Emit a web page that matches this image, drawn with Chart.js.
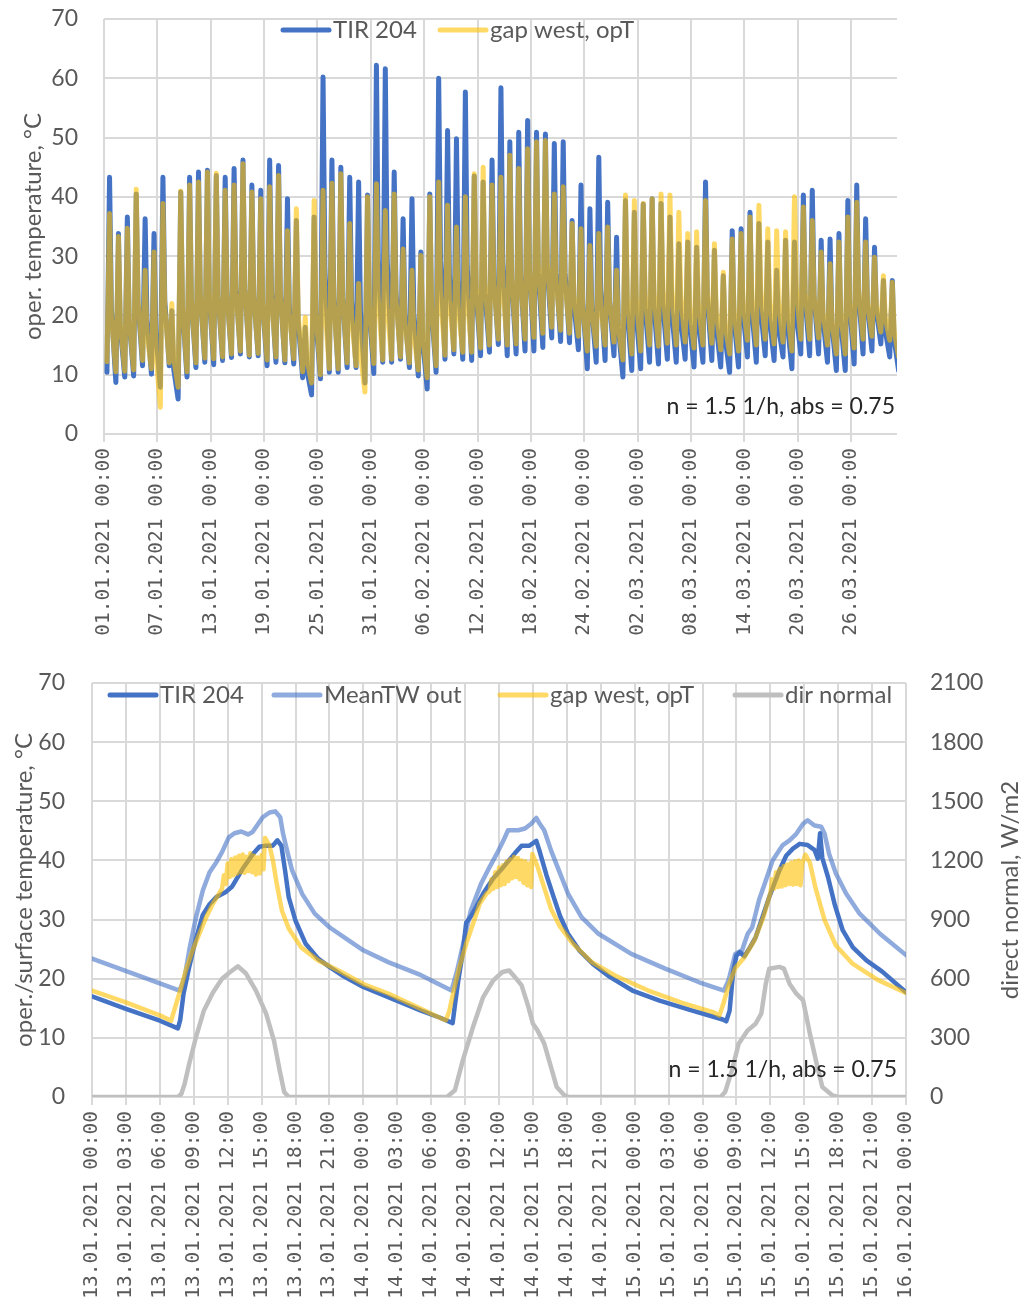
<!DOCTYPE html>
<html>
<head>
<meta charset="utf-8">
<title>TIR 204 operative temperature</title>
<script src="https://cdn.jsdelivr.net/npm/chart.js@4.4.1/dist/chart.umd.min.js"></script>
<style>
  body { margin: 0; background: #fff; }
  #wrap { position: relative; width: 1029px; height: 1306px; }
  #overview { position: absolute; left: 0; top: 0; }
  #detail { position: absolute; left: 0; top: 650px; }
</style>
</head>
<body>
<div id="wrap">
  <canvas id="overview" width="1029" height="650"></canvas>
  <canvas id="detail" width="1029" height="656"></canvas>
</div>
<script>
// ---- overview, 01.01. - 31.03.2021: daily course of the hourly series ----
const overviewTickLabels = ['01.01.2021 00:00', '07.01.2021 00:00', '13.01.2021 00:00', '19.01.2021 00:00',
  '25.01.2021 00:00', '31.01.2021 00:00', '06.02.2021 00:00', '12.02.2021 00:00', '18.02.2021 00:00',
  '24.02.2021 00:00', '02.03.2021 00:00', '08.03.2021 00:00', '14.03.2021 00:00', '20.03.2021 00:00',
  '26.03.2021 00:00'];

// afternoon maximum, one value per day from 01.01.
const tirDailyMax = [43.3, 33.8, 36.6, 40.5, 36.3, 33.8, 43.3, 20.8, 40.8, 43.3,
  44.2, 44.5, 43.6, 43.3, 44.8, 46.2, 42.0, 41.1, 46.2, 45.3,
  39.7, 36.0, 18.0, 36.6, 60.2, 46.2, 45.0, 43.3, 42.5, 40.3,
  62.2, 61.6, 44.2, 36.3, 39.7, 30.7, 40.5, 60.0, 51.2, 49.8,
  57.7, 43.5, 42.5, 46.2, 58.4, 49.3, 50.9, 52.9, 50.9, 50.6,
  49.0, 49.3, 36.0, 42.0, 38.0, 46.7, 39.1, 33.2, 39.4, 37.4,
  38.8, 39.7, 38.9, 36.6, 32.1, 32.4, 31.5, 42.5, 31.0, 26.7,
  34.3, 34.6, 37.4, 35.5, 32.4, 27.6, 32.7, 32.4, 40.3, 41.1,
  32.7, 32.9, 33.8, 39.4, 42.0, 36.3, 31.5, 25.9, 25.9];
const gapDailyMax = [37.2, 33.3, 34.7, 41.3, 27.6, 30.7, 38.9, 22.0, 41.0, 42.0,
  42.5, 44.2, 44.0, 41.1, 42.0, 45.6, 40.8, 39.7, 41.7, 43.6,
  34.3, 38.0, 19.7, 39.4, 41.1, 42.3, 43.9, 35.5, 25.4, 40.0,
  42.2, 37.7, 40.5, 31.2, 27.6, 30.1, 40.0, 42.5, 38.6, 34.9,
  40.0, 43.9, 45.0, 42.0, 43.3, 47.0, 44.8, 48.1, 49.3, 49.5,
  40.5, 41.7, 35.5, 34.6, 31.8, 33.8, 34.9, 27.6, 40.3, 39.4,
  38.9, 39.7, 40.5, 40.3, 37.4, 33.8, 34.1, 39.4, 32.1, 27.3,
  32.9, 33.8, 36.6, 38.6, 34.6, 34.3, 34.1, 40.0, 38.3, 36.0,
  30.7, 28.7, 32.4, 36.6, 39.1, 32.4, 29.8, 26.7, 25.6];

// level around 20:00, after the fast drop of the afternoon peak
const tirDailyEvening = [21.0, 18.0, 19.0, 22.0, 19.3, 17.0, 22.5, 11.0, 21.0, 22.4,
  23.3, 23.2, 23.3, 23.5, 24.5, 24.6, 23.3, 21.9, 24.0, 23.6,
  21.6, 18.8, 10.6, 18.9, 27.8, 22.9, 23.0, 22.4, 20.5, 20.7,
  29.6, 29.4, 23.7, 20.0, 20.3, 15.7, 20.9, 29.2, 26.7, 25.6,
  28.3, 23.8, 23.8, 26.0, 29.0, 26.0, 26.9, 27.6, 27.3, 28.2,
  27.3, 27.3, 21.8, 21.9, 21.2, 24.4, 22.3, 17.9, 20.7, 20.2,
  21.4, 21.6, 21.8, 20.7, 19.4, 18.7, 18.9, 22.9, 18.2, 16.1,
  19.3, 20.6, 21.0, 21.0, 19.4, 18.1, 18.6, 20.1, 22.7, 23.2,
  19.3, 18.5, 18.8, 21.5, 23.5, 21.8, 20.9, 17.5, 16.0];
const gapDailyEvening = [19.8, 18.5, 19.2, 22.5, 16.8, 13.7, 21.4, 12.8, 21.2, 22.5,
  23.2, 23.7, 23.2, 23.2, 23.8, 24.6, 23.1, 22.0, 23.0, 23.4,
  20.3, 20.1, 12.5, 20.3, 21.5, 22.0, 23.2, 19.9, 13.5, 21.7,
  22.9, 21.4, 22.6, 18.7, 16.7, 16.7, 21.5, 23.5, 22.7, 21.2,
  23.0, 24.8, 25.5, 25.1, 24.9, 26.3, 26.1, 27.4, 28.3, 29.0,
  25.5, 25.6, 23.2, 21.2, 20.8, 21.6, 22.3, 17.8, 22.9, 22.9,
  23.4, 23.5, 24.1, 23.9, 23.2, 21.3, 21.7, 23.7, 20.5, 18.3,
  20.6, 22.1, 22.6, 23.9, 22.0, 22.1, 21.0, 24.4, 23.8, 23.1,
  20.5, 18.8, 20.1, 22.2, 24.1, 22.1, 21.6, 19.6, 17.4];

// early morning minimum
const tirDailyMin = [10.4, 8.7, 9.6, 9.8, 11.5, 10.1, 7.9, 11.5, 5.9, 9.6,
  11.2, 12.1, 11.7, 12.4, 12.9, 13.5, 13.0, 13.2, 11.5, 12.1,
  12.0, 11.8, 9.5, 6.6, 9.3, 10.4, 10.4, 11.2, 11.2, 8.6,
  10.2, 12.1, 12.1, 12.6, 11.2, 9.8, 7.6, 10.4, 12.6, 13.5,
  12.6, 12.4, 13.2, 13.8, 15.1, 13.2, 13.5, 14.0, 14.0, 14.6,
  16.2, 15.6, 15.4, 14.2, 11.0, 12.1, 12.4, 13.2, 9.6, 10.7,
  11.0, 12.1, 11.8, 12.6, 12.1, 12.6, 11.3, 12.1, 12.4, 11.3,
  10.4, 11.3, 13.0, 12.1, 13.2, 12.4, 13.0, 11.0, 13.5, 13.2,
  13.5, 12.1, 10.7, 10.7, 11.8, 13.5, 14.0, 15.2, 13.0, 10.7];
const gapDailyMin = [12.2, 10.5, 10.6, 10.8, 12.4, 11.0, 4.5, 12.0, 7.9, 10.5,
  12.0, 12.8, 12.7, 13.0, 13.5, 14.0, 13.3, 13.6, 12.5, 13.0,
  12.5, 12.7, 10.5, 8.6, 10.0, 11.0, 11.0, 12.0, 11.5, 7.1,
  11.9, 12.5, 12.6, 13.0, 12.0, 10.8, 9.5, 11.5, 13.3, 14.2,
  13.8, 13.8, 14.5, 15.0, 16.0, 15.0, 15.2, 16.0, 16.3, 17.0,
  18.0, 17.5, 17.0, 16.5, 14.0, 14.8, 15.0, 15.5, 12.5, 13.5,
  14.0, 15.0, 14.8, 15.3, 15.0, 15.5, 14.5, 15.0, 15.3, 14.2,
  13.5, 14.0, 15.8, 15.0, 16.0, 15.2, 15.5, 14.0, 16.0, 16.0,
  16.2, 15.0, 13.5, 13.5, 14.5, 16.0, 16.5, 17.2, 15.8, 13.0];

// ---- detail, 13.01. - 16.01.2021: [hour since 13.01. 00:00, value] ----
const detailTickLabels = ['13.01.2021 00:00', '13.01.2021 03:00', '13.01.2021 06:00', '13.01.2021 09:00',
  '13.01.2021 12:00', '13.01.2021 15:00', '13.01.2021 18:00', '13.01.2021 21:00', '14.01.2021 00:00',
  '14.01.2021 03:00', '14.01.2021 06:00', '14.01.2021 09:00', '14.01.2021 12:00', '14.01.2021 15:00',
  '14.01.2021 18:00', '14.01.2021 21:00', '15.01.2021 00:00', '15.01.2021 03:00', '15.01.2021 06:00',
  '15.01.2021 09:00', '15.01.2021 12:00', '15.01.2021 15:00', '15.01.2021 18:00', '15.01.2021 21:00',
  '16.01.2021 00:00'];

const tirDetail = [[0, 17.0], [3, 14.9], [6, 12.9], [7.6, 11.6], [7.8, 13.0], [8.1, 17.5], [8.6, 22.0],
  [9.2, 26.8], [9.8, 30.8], [10.4, 32.6], [11.0, 33.8], [11.8, 34.6], [12.4, 35.6], [13.3, 38.5],
  [14.2, 41.0], [14.8, 42.3], [15.4, 42.5], [16.0, 42.5], [16.4, 43.4], [16.75, 42.5], [17.1, 38.0],
  [17.4, 33.8], [18.0, 29.8], [18.9, 25.9], [20.0, 23.4], [21.0, 22.0], [22.1, 20.6], [24.0, 18.6],
  [26.2, 16.9], [29.1, 14.6], [30.8, 13.4], [31.9, 12.5], [32.1, 15.5], [32.4, 19.7], [32.8, 24.5],
  [33.1, 29.5], [33.5, 30.5], [34.0, 32.2], [34.6, 34.4], [35.5, 37.0], [36.4, 38.9], [37.4, 41.2],
  [38.0, 42.5], [38.7, 42.5], [39.3, 43.3], [39.6, 41.5], [40.2, 37.5], [40.8, 34.0], [41.4, 30.6],
  [42.1, 27.6], [43.1, 24.8], [44.3, 22.5], [45.8, 20.3], [47.8, 18.0], [50.2, 16.3], [53.1, 14.6],
  [55.8, 13.1], [56.1, 12.8], [56.4, 14.6], [56.7, 21.0], [57.0, 23.9], [57.3, 24.5], [57.7, 23.8],
  [58.2, 25.3], [58.7, 27.0], [59.3, 30.4], [59.9, 33.8], [60.8, 38.3], [61.4, 40.8], [62.0, 42.0],
  [62.6, 42.8], [63.3, 42.6], [63.9, 41.8], [64.2, 40.3], [64.4, 44.6], [64.6, 40.4], [65.1, 37.2],
  [65.7, 32.5], [66.4, 28.2], [67.3, 25.3], [68.5, 23.1], [69.9, 21.2], [72, 17.7]];

const meanTwDetail = [[0, 23.4], [7.75, 18.0], [8.2, 20.3], [8.6, 24.8], [9.2, 30.4], [9.8, 34.9],
  [10.4, 38.0], [11.0, 39.7], [11.5, 41.4], [12.1, 43.9], [12.6, 44.6], [13.2, 44.9], [13.8, 44.4],
  [14.2, 44.8], [14.6, 45.9], [15.1, 47.3], [15.7, 48.1], [16.2, 48.3], [16.65, 47.3], [16.9, 44.5],
  [17.25, 41.7], [17.7, 38.3], [18.6, 34.3], [19.7, 31.0], [21.0, 28.7], [22.7, 26.5], [24.0, 24.8],
  [26.2, 22.8], [29.1, 20.6], [31.8, 18.0], [32.3, 21.4], [32.9, 26.5], [33.5, 31.5], [34.4, 36.0],
  [35.2, 39.0], [35.8, 41.1], [36.4, 43.4], [36.8, 45.1], [37.7, 45.1], [38.3, 45.4], [38.85, 46.2],
  [39.3, 47.2], [39.6, 46.2], [40.0, 45.1], [40.6, 41.7], [41.4, 37.8], [42.1, 34.4], [43.3, 30.4],
  [44.8, 27.6], [47.7, 24.2], [50.7, 21.7], [53.7, 19.4], [55.9, 18.0], [56.3, 19.7], [56.9, 24.2],
  [57.5, 24.8], [58.0, 27.6], [58.4, 28.7], [59.0, 33.3], [59.6, 36.6], [60.2, 40.0], [61.1, 42.6],
  [61.7, 43.4], [62.3, 44.5], [62.9, 46.2], [63.3, 46.8], [63.9, 45.9], [64.5, 45.7], [64.8, 44.5],
  [65.2, 41.1], [65.8, 37.8], [66.7, 34.4], [67.9, 31.0], [69.7, 27.6], [72, 24.0]];

// 10-minute values around noon, where the gap temperature flickers
const gapWestDetail = [[0, 18.0], [3, 16.0], [6, 13.8], [7.0, 12.9], [7.45, 15.8], [7.9, 18.6], [8.3, 21.4],
  [8.9, 24.8], [9.5, 27.6], [10.1, 30.4], [10.7, 32.7], [11.3, 34.6],
  [11.5, 35.2], [11.67, 37.5], [11.83, 36.0], [12.0, 39.5], [12.17, 37.2], [12.33, 40.2], [12.5, 37.5],
  [12.67, 40.5], [12.83, 37.8], [13.0, 40.8], [13.17, 38.0], [13.33, 41.0], [13.5, 37.9], [13.67, 40.6],
  [13.83, 38.2], [14.0, 41.2], [14.17, 38.0], [14.33, 40.8], [14.5, 37.6], [14.67, 40.5], [14.83, 37.8],
  [15.0, 40.9], [15.17, 38.5],
  [15.3, 43.8], [15.7, 42.5], [16.0, 40.0], [16.3, 36.5], [16.8, 31.5], [17.4, 28.5], [18.5, 25.3],
  [20.0, 23.1], [22.1, 21.1], [24.0, 19.1], [26.2, 17.5], [29.1, 14.9], [31.0, 13.2], [31.3, 13.0],
  [31.6, 14.5], [32.0, 18.0], [32.5, 22.0], [33.1, 25.9], [33.7, 29.3], [34.3, 32.7], [34.9, 34.4],
  [35.17, 34.8], [35.33, 36.8], [35.5, 35.2], [35.67, 38.0], [35.83, 35.5], [36.0, 38.8], [36.17, 35.8],
  [36.33, 39.2], [36.5, 36.0], [36.67, 39.8], [36.83, 36.5], [37.0, 40.2], [37.17, 37.0], [37.33, 40.6],
  [37.5, 37.2], [37.67, 40.4], [37.83, 36.8], [38.0, 40.0], [38.17, 36.2], [38.33, 39.8], [38.5, 35.8],
  [38.67, 39.5], [38.83, 35.5],
  [38.95, 41.1], [39.4, 39.0], [39.9, 36.0], [40.6, 31.8], [41.4, 28.8], [42.5, 26.0], [44.2, 22.8],
  [46.3, 20.5], [49.2, 18.0], [52.2, 15.9], [55.0, 14.3], [55.5, 13.8],
  [55.8, 15.5], [56.3, 18.8], [56.9, 21.8], [57.7, 23.6], [58.6, 26.5], [59.4, 30.5], [59.9, 33.8],
  [60.0, 34.4], [60.17, 36.8], [60.33, 35.2], [60.5, 38.0], [60.67, 35.5], [60.83, 38.6], [61.0, 35.6],
  [61.17, 39.0], [61.33, 35.8], [61.5, 39.3], [61.67, 36.0], [61.83, 39.6], [62.0, 35.9], [62.17, 39.8],
  [62.33, 36.0], [62.5, 40.0], [62.67, 35.8], [62.83, 39.5],
  [63.1, 41.0], [63.5, 39.6], [64.0, 35.3], [64.8, 29.9], [65.8, 25.6], [67.3, 22.5], [69.5, 19.8], [72, 17.6]];

// direct normal irradiance, W/m2
const dirNormalDetail = [[0, 0], [7.6, 0], [7.9, 15], [8.2, 68], [8.6, 169], [9.2, 304], [9.9, 439],
  [10.7, 530], [11.5, 600], [12.2, 633], [12.9, 663], [13.6, 628], [14.5, 540], [15.4, 423], [16.1, 285],
  [16.6, 135], [17.0, 25], [17.4, 0], [31.4, 0], [32.1, 34], [32.8, 186], [33.7, 355], [34.6, 507],
  [35.5, 592], [36.3, 634], [36.9, 642], [37.4, 609], [38.0, 566], [38.6, 457], [39.0, 372], [39.4, 338],
  [40.0, 271], [40.6, 152], [41.1, 51], [41.8, 8], [42.2, 0], [55.6, 0], [56.0, 25], [56.6, 135],
  [57.2, 270], [58.0, 338], [58.7, 372], [59.2, 423], [59.6, 575], [59.9, 651], [60.8, 660], [61.2, 651],
  [61.7, 575], [62.3, 524], [62.9, 490], [63.5, 321], [64.1, 169], [64.6, 51], [65.5, 8], [66.0, 0], [72, 0]];

const NOTE = 'n = 1.5 1/h, abs = 0.75';

const BLUE = '#4472C4';
const LIGHT_BLUE = 'rgba(68, 114, 196, 0.6)';
const GOLD = 'rgba(255, 192, 0, 0.6)';
const GREY = '#BFBFBF';
const GRID = '#D9D9D9';
const TEXT = '#595959';

Chart.defaults.font.family = 'Lato';
Chart.defaults.color = TEXT;

// "dd.mm.yyyy hh:mm" -> hours since the given start label
function hoursFrom(start, label) {
  const ms = s => {
    const [d, m, y] = s.slice(0, 10).split('.').map(Number);
    const [hh, mm] = s.slice(11).split(':').map(Number);
    return Date.UTC(y, m - 1, d, hh, mm);
  };
  return (ms(label) - ms(start)) / 3600000;
}

// low around 08:00, high around 15:00, evening level at 20:00
const LOW_HOUR = 8, HIGH_HOUR = 15, EVENING_HOUR = 20;
function dailyPoints(mins, maxs, evenings) {
  const pts = [];
  mins.forEach((v, d) => {
    pts.push({ x: d + LOW_HOUR / 24, y: v });
    if (d < maxs.length) {
      pts.push({ x: d + HIGH_HOUR / 24, y: maxs[d] });
      pts.push({ x: d + EVENING_HOUR / 24, y: evenings[d] });
    }
  });
  return pts;
}
const pairs = arr => arr.map(([x, y]) => ({ x, y }));

// legend inside the plot, note text and the right axis title
const chartExtras = {
  id: 'chartExtras',
  afterDraw(chart, args, o) {
    const { ctx, chartArea: a } = chart;
    ctx.save();
    ctx.font = '24px Lato';
    ctx.textBaseline = 'middle';
    const y = a.top + o.legendY;
    chart.data.datasets.forEach((ds, i) => {
      const x = a.left + o.legendX[i];
      ctx.strokeStyle = ds.borderColor;
      ctx.lineWidth = 5;
      ctx.lineCap = 'round';
      ctx.beginPath();
      ctx.moveTo(x, y);
      ctx.lineTo(x + 46, y);
      ctx.stroke();
      ctx.fillStyle = TEXT;
      ctx.fillText(ds.label, x + 50, y);
    });
    ctx.font = '23px Lato';
    ctx.fillStyle = '#262626';
    ctx.textAlign = 'right';
    ctx.fillText(NOTE, a.right - o.noteRight, a.bottom - 27);
    if (o.rightTitle) {
      ctx.translate(a.right + 104, (a.top + a.bottom) / 2);
      ctx.rotate(-Math.PI / 2);
      ctx.textAlign = 'center';
      ctx.fillStyle = TEXT;
      ctx.font = '24px Lato';
      ctx.fillText(o.rightTitle, 0, 0);
    }
    ctx.restore();
  }
};

function xAxis(min, max, values, labels, height) {
  return {
    type: 'linear', min, max,
    afterBuildTicks: s => { s.ticks = values.map(v => ({ value: v })); },
    afterFit: s => { s.height = height; },
    grid: { color: GRID, lineWidth: 2, tickLength: 8 },
    border: { display: false },
    ticks: {
      autoSkip: false, maxRotation: 90, minRotation: 90, padding: 6,
      font: { family: 'DejaVu Sans Mono', size: 19.5 }, color: TEXT,
      callback: (v, i) => labels[i]
    }
  };
}

// fixed width, and no extra room above/below for the end labels
const fixWidth = width => s => { s.width = width; s.paddingTop = 0; s.paddingBottom = 0; };

function tempAxis(width, title, titlePad, tickPad) {
  return {
    position: 'left', min: 0, max: 70,
    afterFit: fixWidth(width),
    grid: { color: GRID, lineWidth: 2, drawTicks: false },
    border: { display: false },
    ticks: { stepSize: 10, padding: tickPad, font: { size: 23 }, color: TEXT },
    title: { display: true, text: title, font: { size: 24 }, color: TEXT, padding: { top: titlePad, bottom: 0 } }
  };
}

const lineStyle = { pointRadius: 0, borderWidth: 4.5, tension: 0, fill: false,
  borderJoinStyle: 'round', borderCapStyle: 'round' };

// top: whole quarter
new Chart(document.getElementById('overview'), {
  type: 'line',
  data: {
    datasets: [
      { label: 'TIR 204', data: dailyPoints(tirDailyMin, tirDailyMax, tirDailyEvening),
        borderColor: BLUE, order: 1, ...lineStyle, borderWidth: 5 },
      { label: 'gap west, opT', data: dailyPoints(gapDailyMin, gapDailyMax, gapDailyEvening),
        borderColor: GOLD, order: 0, ...lineStyle, borderWidth: 5 }
    ]
  },
  options: {
    responsive: false, animation: false, devicePixelRatio: 1,
    layout: { padding: { top: 19, right: 132, left: 0, bottom: 0 } },
    plugins: {
      legend: { display: false }, tooltip: { enabled: false },
      chartExtras: { legendX: [179, 336], legendY: 11, noteRight: 2 }
    },
    scales: {
      x: xAxis(0, 89.15, overviewTickLabels.map(l => hoursFrom(overviewTickLabels[0], l) / 24),
        overviewTickLabels, 216),
      y: tempAxis(104, 'oper. temperature, °C', 19, 26)
    }
  },
  plugins: [chartExtras]
});

// bottom: three days in January
new Chart(document.getElementById('detail'), {
  type: 'line',
  data: {
    datasets: [
      { label: 'TIR 204', data: pairs(tirDetail), borderColor: BLUE, order: 3, yAxisID: 'y', ...lineStyle },
      { label: 'MeanTW out', data: pairs(meanTwDetail), borderColor: LIGHT_BLUE, order: 2, yAxisID: 'y', ...lineStyle },
      { label: 'gap west, opT', data: pairs(gapWestDetail), borderColor: GOLD, order: 1, yAxisID: 'y', ...lineStyle },
      { label: 'dir normal', data: pairs(dirNormalDetail), borderColor: GREY, order: 0, yAxisID: 'y1', ...lineStyle }
    ]
  },
  options: {
    responsive: false, animation: false, devicePixelRatio: 1,
    layout: { padding: { top: 33, right: 0, left: 0, bottom: 0 } },
    plugins: {
      legend: { display: false }, tooltip: { enabled: false },
      chartExtras: { legendX: [18, 182, 408, 643], legendY: 12, noteRight: 9, rightTitle: 'direct normal, W/m2' }
    },
    scales: {
      x: xAxis(0, 72, detailTickLabels.map(l => hoursFrom(detailTickLabels[0], l)), detailTickLabels, 209),
      y: tempAxis(92, 'oper./surface temperature, °C', 10, 27),
      y1: {
        position: 'right', min: 0, max: 2100,
        afterFit: fixWidth(123),
        grid: { display: false, drawTicks: false },
        border: { display: false },
        ticks: { stepSize: 300, padding: 24, font: { size: 23 }, color: TEXT, callback: v => String(v) }
      }
    }
  },
  plugins: [chartExtras]
});
</script>
</body>
</html>
